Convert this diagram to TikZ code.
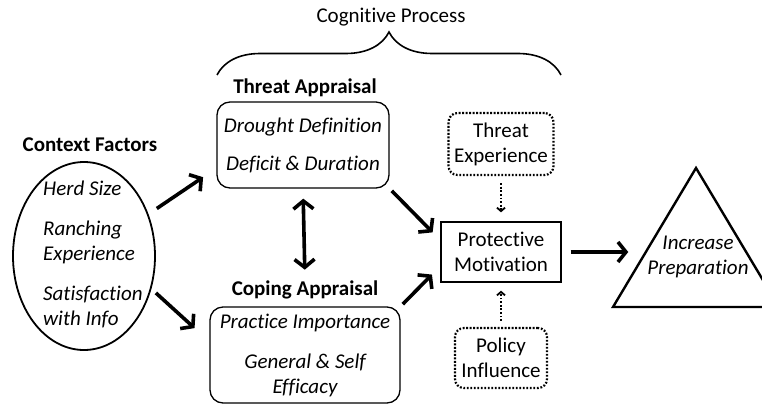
\documentclass[tikz,border=0pt]{standalone}
\usepackage{fontspec}
\setmainfont{Carlito}[Ligatures=NoCommon]
\usetikzlibrary{positioning,shapes.geometric,arrows.meta,decorations.pathreplacing}

\tikzset{
  txt/.style={font=\fontsize{21}{25}\selectfont, align=center, inner sep=0pt},
  hdr/.style={txt, font=\fontsize{21}{25}\selectfont\bfseries},
  itxt/.style={txt, font=\fontsize{21}{25}\selectfont\itshape},
  appraisal/.style={itxt, draw, rounded corners=13pt, line width=1.3pt},
  factor/.style={txt, draw, line width=2.2pt, dash pattern=on 1.8pt off 1.7pt, rounded corners=9pt},
  motive/.style={txt, draw, line width=1.3pt},
  bigarrow/.style={line width=3.6pt, -{Straight Barb[length=8pt,width=20pt]}},
  hint/.style={line width=1.8pt, dash pattern=on 1.8pt off 1.8pt, -{Straight Barb[length=3.5pt,width=8pt]}},
  brace/.style={decorate, decoration={brace, amplitude=43pt}, line width=1.6pt}
}

\begin{document}
\begin{tikzpicture}[x=1pt, y=-1pt]
      \useasboundingbox (0,0) rectangle (762,404);
      \clip (0,0) rectangle (762,404);
      % Define nodes
      \node[txt] (cog) at (391,17) {Cognitive Process};
      \coordinate (bl) at (217,75);
      \coordinate (br) at (561,75);
      \draw[brace] (bl) -- (br);

      \node[hdr] (ctxlbl) at (90,145) {Context Factors};
      \node[draw, ellipse, line width=1.8pt, minimum width=142pt, minimum height=188pt, inner sep=0pt] (ctx) at (84,256) {};
      \node[itxt, align=left, anchor=west] (ctxtxt) at (43,254) {Herd Size\\[15pt]Ranching\\Experience\\[15pt]Satisfaction\\with Info};

      \node[hdr] (threatlbl) at (305,88) {Threat Appraisal};
      \node[appraisal, minimum width=172pt, minimum height=86pt] (threat) at (303,145) {Drought Definition\\[13pt]Deficit \& Duration};

      \node[hdr] (copelbl) at (305,290) {Coping Appraisal};
      \node[appraisal, minimum width=190pt, minimum height=96pt] (cope) at (305,355) {Practice Importance\\[15pt]General \& Self\\Efficacy};

      \node[factor, minimum width=105pt, minimum height=62pt] (exp) at (501,144) {Threat\\Experience};
      \node[motive, minimum width=120pt, minimum height=60pt] (pm) at (501,252) {Protective\\Motivation};
      \node[factor, minimum width=92pt, minimum height=60pt] (pol) at (501,358) {Policy\\Influence};

      \draw[line width=2.4pt, line join=miter] (613,307) -- (696,168) -- (779,307) -- cycle;
      \node[itxt] (prep) at (698,257) {Increase\\Preparation};

      % Edges
      \draw[bigarrow, shorten <=10pt, shorten >=16pt] (ctx.33) -- (threat.195);
      \draw[bigarrow, shorten <=6pt, shorten >=20pt] (ctx.-26) -- (cope.172);
      \draw[bigarrow, {Straight Barb[length=8pt,width=20pt]}-{Straight Barb[length=8pt,width=20pt]}, shorten <=10pt, shorten >=11pt] (threat.south) -- (copelbl.north);
      \draw[bigarrow, shorten <=3pt, shorten >=11pt] (threat.south east) -- (pm.169);
      \draw[bigarrow, shorten <=3pt, shorten >=12pt] (cope.north east) -- (pm.193);
      \draw[hint, shorten <=7pt, shorten >=9pt] (exp) -- (pm);
      \draw[hint, shorten <=6pt, shorten >=8pt] (pol) -- (pm);
      \draw[bigarrow, shorten <=9pt, shorten >=19pt] (pm.east) -- (pm.east -| prep.west);
    \end{tikzpicture}
\end{document}
